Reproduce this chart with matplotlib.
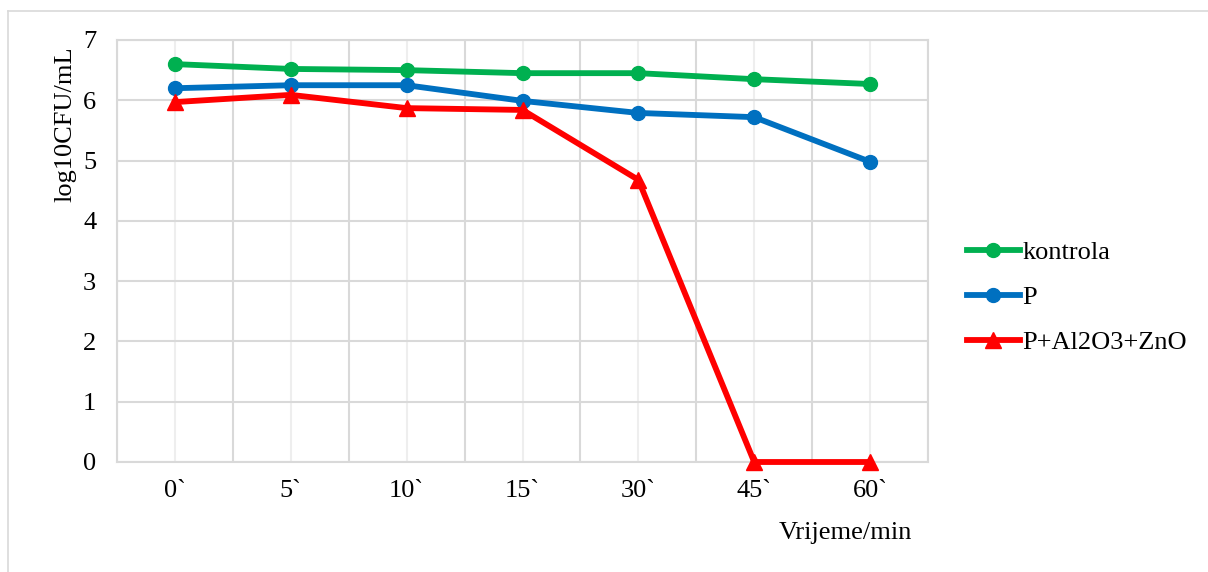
import matplotlib.pyplot as plt
from matplotlib.lines import Line2D

plt.rcParams['font.family'] = ['Liberation Serif', 'DejaVu Serif']

# data
times = ["0`", "5`", "10`", "15`", "30`", "45`", "60`"]
kontrola = [6.60, 6.52, 6.50, 6.45, 6.45, 6.35, 6.27]
p_only = [6.20, 6.25, 6.25, 5.99, 5.79, 5.72, 4.98]
p_al_zn = [5.97, 6.09, 5.87, 5.84, 4.68, 0.0, 0.0]

fs = 19

fig = plt.figure(figsize=(12.08, 5.72), dpi=100)
ax = fig.add_axes([117 / 1208, 110 / 572, 811 / 1208, 422 / 572])

x = list(range(len(times)))
ax.plot(x, kontrola, color="#00B050", lw=4.2, marker="o", ms=10, label="kontrola", clip_on=False, zorder=3)
ax.plot(x, p_only, color="#0070C0", lw=4.2, marker="o", ms=10, label="P", clip_on=False, zorder=3)
ax.plot(x, p_al_zn, color="#FF0000", lw=4.2, marker="^", ms=11, label="P+Al2O3+ZnO", clip_on=False, zorder=4)

ax.set_xlim(-0.5, len(times) - 0.5)
ax.set_ylim(0, 7)
ax.set_yticks(range(0, 8))
ax.set_xticks(x)
ax.set_xticklabels(times)
ax.set_xticks([i - 0.5 for i in range(len(times) + 1)], minor=True)

# category boundaries darker, category centres lighter, like Excel
ax.grid(axis="y", which="major", color="#D9D9D9", lw=1.5)
ax.grid(axis="x", which="major", color="#EEEEEE", lw=1.5)
ax.grid(axis="x", which="minor", color="#D9D9D9", lw=1.5)
ax.set_axisbelow(True)
for s in ax.spines.values():
    s.set_color("#D9D9D9")
    s.set_linewidth(1.5)

ax.tick_params(which="both", length=0, labelsize=fs)
ax.tick_params(axis="y", pad=15)
ax.tick_params(axis="x", pad=13)

fig.text(65 / 1208, 1 - 124 / 572, "log10CFU/mL", fontsize=fs, rotation=90, ha="center", va="center")
fig.text(845 / 1208, 1 - 533 / 572, "Vrijeme/min", fontsize=fs, ha="center", va="center")

ax.legend(loc="center left", bbox_to_anchor=(1.035, 0.39), frameon=False, fontsize=fs,
          handlelength=2.0, handletextpad=0.1, labelspacing=0.82, borderaxespad=0)

# outer chart border
fig.add_artist(Line2D([8 / 1208, 8 / 1208], [0, 1 - 11 / 572], color="#D9D9D9", lw=1.2))
fig.add_artist(Line2D([8 / 1208, 1], [1 - 11 / 572, 1 - 11 / 572], color="#D9D9D9", lw=1.2))

fig.savefig("out.png", dpi=100)
